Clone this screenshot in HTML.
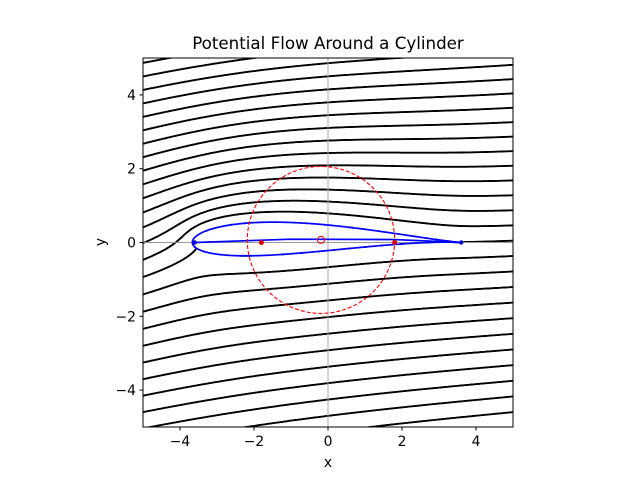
<!DOCTYPE html>
<html><head><meta charset="utf-8"><style>
body{margin:0;background:#fff}
svg{display:block;font-family:"DejaVu Sans","Liberation Sans",sans-serif}
</style></head><body>
<svg id="chart" width="640" height="480" viewBox="0 0 640 480">
<rect width="640" height="480" fill="#fff"/>
<defs><clipPath id="clip"><rect x="143" y="58" width="370" height="369"/></clipPath></defs>
<g id="plot" clip-path="url(#clip)"></g>
<rect x="143" y="58" width="370" height="369" fill="none" stroke="#000" stroke-width="1"/>
<g id="ticks"></g>
<text x="328" y="49" text-anchor="middle" font-size="16.7">Potential Flow Around a Cylinder</text>
<text x="328" y="467" text-anchor="middle" font-size="13.9">x</text>
<text x="105" y="242" text-anchor="middle" font-size="13.9" transform="rotate(-90 105 242)">y</text>
</svg>
<script>
// data
const xTicks = [-4, -2, 0, 2, 4];
const yTicks = [-4, -2, 0, 2, 4];
const flowParams = [1.0, 8, 1.8, 0.9];          // U, alpha (deg), c, circulation factor (of Kutta)
const circleCenter = [-0.19, 0.07];
const levelStep = [0.4];
const levelRange = [-18, 18];
const camberX = [-3.6, -1.0, 1.8, 3.6];
const camberY = [0.0, 0.09, 0.08, 0.0];

const NS = 'http://www.w3.org/2000/svg';
const X0 = 143, X1 = 513, Y0 = 427, Y1 = 58;
const sx = v => X0 + (v + 5) / 10 * (X1 - X0);
const sy = v => Y0 - (v + 5) / 10 * (Y0 - Y1);
const plot = document.getElementById('plot');
const ticks = document.getElementById('ticks');
function mk(tag, attrs, parent) {
  const e = document.createElementNS(NS, tag);
  for (const k in attrs) e.setAttribute(k, attrs[k]);
  parent.appendChild(e); return e;
}
const fmt = v => (v < 0 ? '\u2212' : '') + Math.abs(v);

xTicks.forEach(v => {
  const l = mk('line', {x1: sx(v), x2: sx(v), y1: Y0, y2: Y0 + 3.5, stroke: '#000'}, ticks);
  
  
  const t = mk('text', {x: sx(v), y: Y0 + 19, 'text-anchor': 'middle', 'font-size': '13.9'}, ticks);
  t.textContent = fmt(v);
  
  
});
yTicks.forEach(v => {
  const l = mk('line', {x1: X0 - 3.5, x2: X0, y1: sy(v), y2: sy(v), stroke: '#000'}, ticks);
  
  
  const t = mk('text', {x: X0 - 7, y: sy(v) + 5, 'text-anchor': 'end', 'font-size': '13.9'}, ticks);
  t.textContent = fmt(v);
  
  
});

const U = flowParams[0], al = flowParams[1] * Math.PI / 180, c = flowParams[2];
const zx0 = circleCenter[0], zy0 = circleCenter[1];
const R = Math.hypot(c - zx0, -zy0);
const beta = -Math.atan2(-zy0, c - zx0);
const G = flowParams[3] * 4 * Math.PI * U * R * Math.sin(al + beta);
function csqrt(a, b) { const r = Math.hypot(a, b); let re = Math.sqrt((r + a) / 2), im = Math.sqrt(Math.max(0, (r - a) / 2)); if (b < 0) im = -im; return [re, im]; }
function psi(x, y) {
  const s = csqrt(x * x - y * y - 4 * c * c, 2 * x * y);
  let a = [(x + s[0]) / 2, (y + s[1]) / 2], b = [(x - s[0]) / 2, (y - s[1]) / 2];
  const da = Math.hypot(a[0] - zx0, a[1] - zy0), db = Math.hypot(b[0] - zx0, b[1] - zy0);
  let z = da >= db ? a : b; const d = Math.max(da, db);
  if (d < R * 0.999) return NaN;
  const px = z[0] - zx0, py = z[1] - zy0, r2 = px * px + py * py;
  const t1 = U * (py * Math.cos(al) - px * Math.sin(al));
  const t2 = U * R * R / r2 * (Math.sin(al) * px - Math.cos(al) * py);
  const t3 = G / (2 * Math.PI) * Math.log(Math.sqrt(r2));
  return t1 + t2 + t3;
}
const psiS = G / (2 * Math.PI) * Math.log(R);
const N = 260, h = 10.4 / N, gx0 = -5.2;
const P = [];
for (let j = 0; j <= N; j++) { const row = []; for (let i = 0; i <= N; i++) row.push(psi(gx0 + i * h, gx0 + j * h)); P.push(row); }
let d = '';
for (let k = levelRange[0]; k <= levelRange[1]; k++) {
  const L = psiS + k * levelStep[0];
  for (let j = 0; j < N; j++) for (let i = 0; i < N; i++) {
    const v = [P[j][i], P[j][i + 1], P[j + 1][i + 1], P[j + 1][i]];
    if (v.some(isNaN)) continue;
    const pts = [];
    const cx = [gx0 + i * h, gx0 + (i + 1) * h, gx0 + (i + 1) * h, gx0 + i * h];
    const cy = [gx0 + j * h, gx0 + j * h, gx0 + (j + 1) * h, gx0 + (j + 1) * h];
    for (let e = 0; e < 4; e++) {
      const a = v[e], b = v[(e + 1) % 4];
      if ((a - L) * (b - L) < 0) { const t = (L - a) / (b - a); const n = (e + 1) % 4; pts.push([cx[e] + t * (cx[n] - cx[e]), cy[e] + t * (cy[n] - cy[e])]); }
    }
    for (let q = 0; q + 1 < pts.length; q += 2)
      d += 'M' + sx(pts[q][0]).toFixed(1) + ' ' + sy(pts[q][1]).toFixed(1) + 'L' + sx(pts[q + 1][0]).toFixed(1) + ' ' + sy(pts[q + 1][1]).toFixed(1);
  }
}
const sl = mk('path', {d: d, stroke: '#000', 'stroke-width': 1.9, fill: 'none', 'stroke-linecap': 'round'}, plot);



const hl = mk('line', {x1: X0, x2: X1, y1: sy(0), y2: sy(0), stroke: '#999', 'stroke-width': 1}, plot);


const vl = mk('line', {x1: sx(0), x2: sx(0), y1: Y0, y2: Y1, stroke: '#aaa', 'stroke-width': 1}, plot);



let ad = '';
for (let i = 0; i <= 360; i++) {
  const th = i * Math.PI / 180; const zx = zx0 + R * Math.cos(th), zy = zy0 + R * Math.sin(th);
  const r2 = zx * zx + zy * zy; const X = zx + c * c * zx / r2, Y = zy - c * c * zy / r2;
  ad += (i ? 'L' : 'M') + sx(X).toFixed(2) + ' ' + sy(Y).toFixed(2);
}
const af = mk('path', {d: ad, stroke: '#0000ff', 'stroke-width': 1.7, fill: 'none'}, plot);


const cm = mk('polyline', {points: camberX.map((x, i) => sx(x) + ',' + sy(camberY[i])).join(' '), stroke: '#0000ff', 'stroke-width': 1.7, fill: 'none'}, plot);



const cc = mk('ellipse', {cx: sx(zx0), cy: sy(zy0), rx: R * (X1 - X0) / 10, ry: R * (Y0 - Y1) / 10, fill: 'none', stroke: '#ff0000', 'stroke-width': 1.1, 'stroke-dasharray': '4,2'}, plot);


const cen = mk('circle', {cx: sx(zx0), cy: sy(zy0), r: 3.5, fill: 'none', stroke: '#ff0000', 'stroke-width': 1}, plot);


[-c, c].forEach(v => {
  const p = mk('circle', {cx: sx(v), cy: sy(0), r: 2.5, fill: '#dd0000'}, plot);
  
  
});
[-2 * c, 2 * c].forEach(v => {
  const p = mk('circle', {cx: sx(v), cy: sy(0), r: 2.2, fill: '#0000cc'}, plot);
  
  
});
</script>
</body></html>
